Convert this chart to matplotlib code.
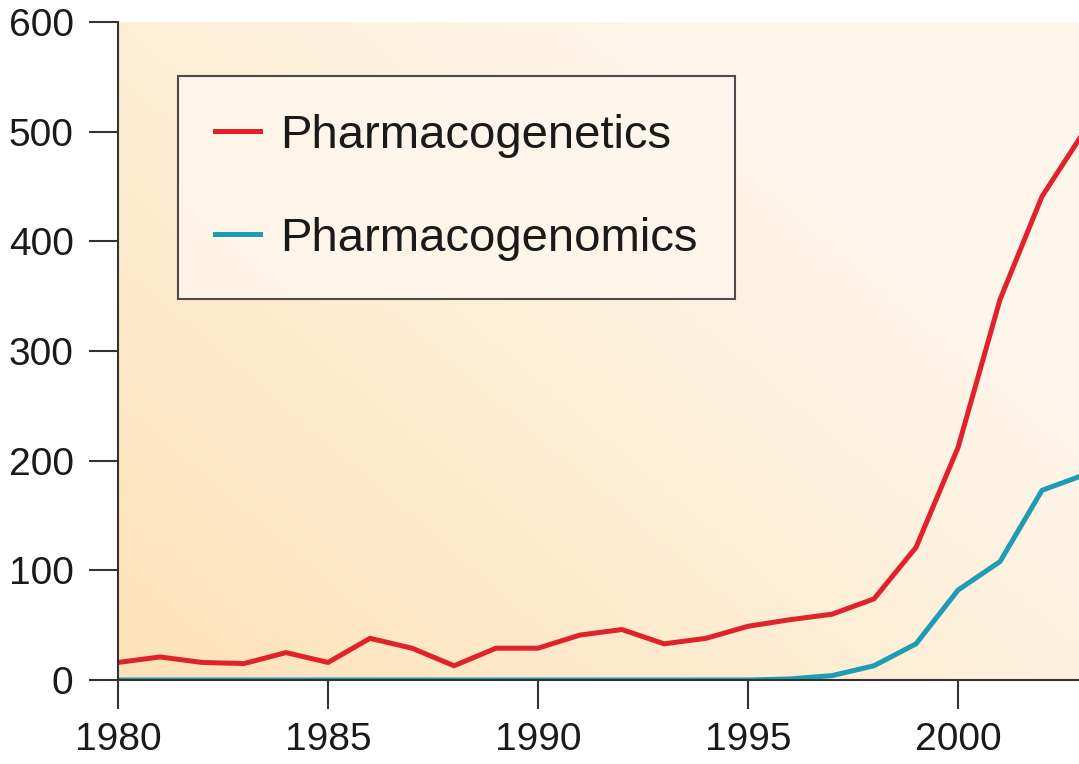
import numpy as np
import matplotlib
matplotlib.use('Agg')
import matplotlib.pyplot as plt
from matplotlib.colors import LinearSegmentedColormap

plt.rcParams['font.family'] = ['Liberation Sans', 'DejaVu Sans']

years = list(range(1980, 2004))
genetics = [16, 21, 16, 15, 25, 16, 38, 29, 13, 29, 29, 41, 46, 33, 38, 49, 55, 60, 74, 121, 212, 347, 441, 500]
genomics = [0, 0, 0, 0, 0, 0, 0, 0, 0, 0, 0, 0, 0, 0, 0, 0, 1, 4, 13, 33, 82, 108, 173, 187]
labels = ['Pharmacogenetics', 'Pharmacogenomics']
colors = ['#e0222b', '#1c9db4']

fig = plt.figure(figsize=(10.79, 7.64), dpi=100)
ax = fig.add_axes([118/1079, 84/764, 961/1079, 658/764])

# background gradient, orange bottom-left to pale top-right
cmap = LinearSegmentedColormap.from_list('bg', ['#fde2b8', '#fef6ea'])
gx, gy = np.meshgrid(np.linspace(0, 1, 200), np.linspace(0, 1, 200))
grad = np.clip(gx * 0.75 + gy * 0.6, 0, 1)
ax.imshow(grad, cmap=cmap, extent=[0, 1, 0, 1], transform=ax.transAxes,
          origin='lower', aspect='auto', zorder=0)

ax.plot(years, genetics, color=colors[0], lw=3.6, label=labels[0], zorder=3)
ax.plot(years, genomics, color=colors[1], lw=3.6, label=labels[1], zorder=2)

ax.set_xlim(1980, 2002.88)
ax.set_ylim(0, 600)
ax.set_xticks([1980, 1985, 1990, 1995, 2000])
ax.set_yticks([0, 100, 200, 300, 400, 500, 600])

for s in ['top', 'right']:
    ax.spines[s].set_visible(False)
for s in ['left', 'bottom']:
    ax.spines[s].set_color('#333333')
    ax.spines[s].set_linewidth(1.5)
    ax.spines[s].set_zorder(4)

ax.tick_params(axis='both', direction='out', length=21, width=1.5, color='#333333',
               labelsize=28, labelcolor='#1a1a1a')
ax.tick_params(axis='y', pad=11)
ax.tick_params(axis='x', pad=9)

leg = ax.legend(loc='upper left', bbox_to_anchor=(0.062, 0.918), fontsize=34,
                frameon=True, fancybox=False, edgecolor='#222222',
                facecolor=(1.0, 0.97, 0.93, 0.5), framealpha=None, handlelength=0.95,
                handletextpad=0.42, borderpad=0.8, labelspacing=1.25,
                borderaxespad=0)
leg.get_frame().set_linewidth(1.5)
for t in leg.get_texts():
    t.set_color('#1a1a1a')

plt.savefig('out.png', dpi=100)
